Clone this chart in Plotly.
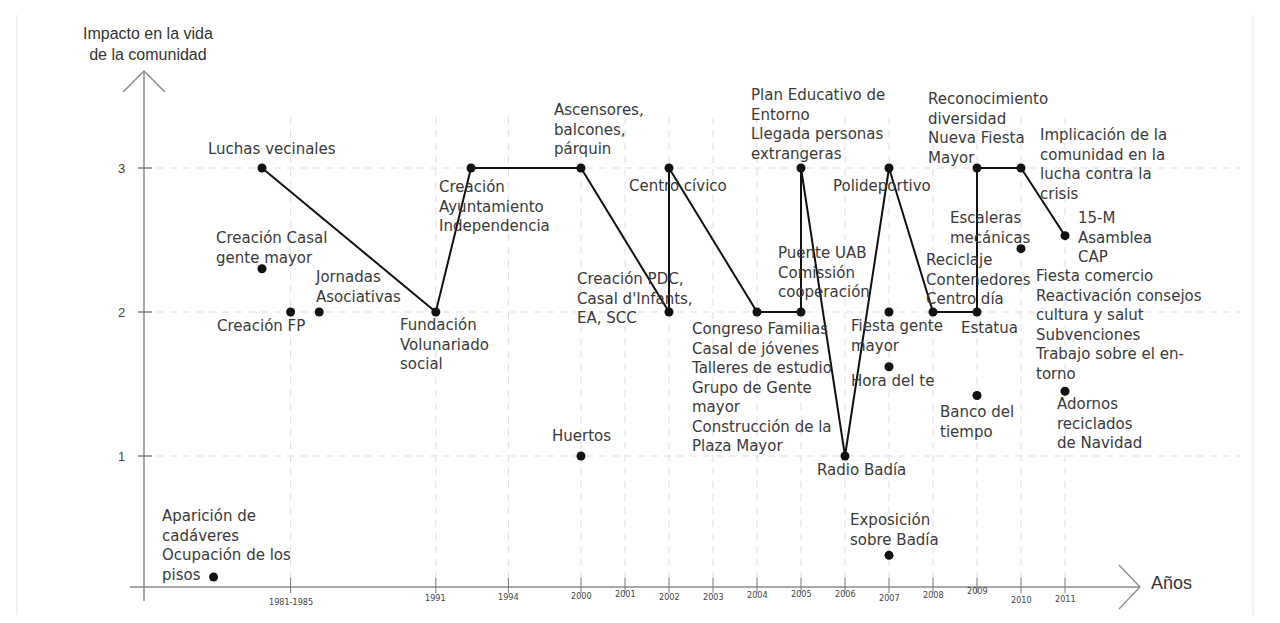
import plotly.graph_objects as go

# ---------------- data ----------------
TICK_LABELS = ["1981-1985", "1991", "1994", "2000", "2001", "2002", "2003", "2004",
               "2005", "2006", "2007", "2008", "2009", "2010", "2011"]
TICK_POS = [3.4, 6.7, 8.35, 10, 11, 12, 13, 14, 15, 16, 17, 18, 19, 20, 21]
Y_TICKS = [1, 2, 3]

# connected path of events
LINE_X = [2.75, 6.7, 7.5, 10, 12, 12, 14, 15, 15, 16, 17, 18, 19, 19, 20, 21]
LINE_Y = [3, 2, 3, 3, 2, 3, 2, 2, 3, 1, 3, 2, 2, 3, 3, 2.53]
LINE_LABELS = [
    "Luchas vecinales",
    "Fundación<br>Volunariado<br>social",
    "Creación<br>Ayuntamiento<br>Independencia",
    "Ascensores,<br>balcones,<br>párquin",
    "Creación PDC,<br>Casal d'Infants,<br>EA, SCC",
    "Centro cívico",
    "Congreso Familias<br>Casal de jóvenes<br>Talleres de estudio<br>Grupo de Gente<br>mayor<br>Construcción de la<br>Plaza Mayor",
    "Puente UAB<br>Comissión<br>cooperación",
    "Plan Educativo de<br>Entorno<br>Llegada personas<br>extrangeras",
    "Radio Badía",
    "Polideportivo",
    "Reciclaje<br>Contenedores<br>Centro día",
    "Estatua",
    "Reconocimiento<br>diversidad<br>Nueva Fiesta<br>Mayor",
    "Implicación de la<br>comunidad en la<br>lucha contra la<br>crisis",
    "15-M<br>Asamblea<br>CAP",
]

# isolated events
DOT_X = [2.75, 3.4, 4.05, 1.65, 10, 17, 17, 17, 19, 20, 21]
DOT_Y = [2.3, 2, 2, 0.16, 1, 2, 1.62, 0.31, 1.42, 2.44, 1.45]
DOT_LABELS = [
    "Creación Casal<br>gente mayor",
    "Creación FP",
    "Jornadas<br>Asociativas",
    "Aparición de<br>cadáveres<br>Ocupación de los<br>pisos",
    "Huertos",
    "Fiesta gente<br>mayor",
    "Hora del te",
    "Exposición<br>sobre Badía",
    "Banco del<br>tiempo",
    "Escaleras<br>mecánicas",
    "Adornos<br>reciclados<br>de Navidad",
]
EXTRA_LABEL = "Fiesta comercio<br>Reactivación consejos<br>cultura y salut<br>Subvenciones<br>Trabajo sobre el en-<br>torno"

# ---------------- label placement (pixel offsets from the point) ----------------
LINE_OFF = [(-56, 19), (-38, -32), (-34, -38), (-29, 39), (-94, 14), (-42, -18),
            (-68, -75), (-25, 40), (-52, 44), (-30, -14), (-58, -18), (-9, 33),
            (-18, -16), (-51, 40), (17, 4), (11, -2)]
DOT_OFF = [(-48, 21), (-76, -14), (-6, 25), (-54, 31), (-31, 20), (-40, -24),
           (-40, -14), (-41, 25), (-39, -26), (-73, 21), (-10, -32)]
EXTRA_OFF = (-32, 66)  # relative to the last dot
TICK_DY = [15, 11, 10, 9, 7, 10, 10, 8, 7, 7, 11, 8, 4, 13, 12]

PAGE_PAD = 8                   # default body margin of the html page
W, H = 1280 - 2 * PAGE_PAD, 623 - 2 * PAGE_PAD
PX_X, PX_Y = 44.0, 144.0       # pixels per unit
X0_PX, Y0_PX = 141.0, 600.0    # page pixel of data origin


def ux(px):
    return (px - X0_PX) / PX_X


def uy(py):
    return (Y0_PX - py) / PX_Y


TXT = "#3a3a3a"
LABEL_FONT = dict(family="DejaVu Sans", size=15, color=TXT)

fig = go.Figure()

fig.add_trace(go.Scatter(x=LINE_X, y=LINE_Y, mode="lines+markers",
                         line=dict(color="#111111", width=2),
                         marker=dict(color="#111111", size=9),
                         hoverinfo="skip", showlegend=False))
fig.add_trace(go.Scatter(x=DOT_X, y=DOT_Y, mode="markers",
                         marker=dict(color="#111111", size=9),
                         hoverinfo="skip", showlegend=False))

shapes = []
grid = dict(color="#dedede", width=1, dash="7px,6px")
for yv in Y_TICKS:
    shapes.append(dict(type="line", x0=ux(157), x1=ux(1240), y0=yv, y1=yv, line=grid, layer="below"))
for xv in TICK_POS:
    shapes.append(dict(type="line", x0=xv, x1=xv, y0=uy(117), y1=uy(579), line=grid, layer="below"))

axc = dict(color="#8c8c8c", width=1.5)
shapes.append(dict(type="line", x0=ux(144), x1=ux(144), y0=uy(601), y1=uy(71), line=axc))
shapes.append(dict(type="path", path=f"M {ux(123)},{uy(92)} L {ux(144)},{uy(71)} L {ux(165)},{uy(92)}", line=axc))
for yv in Y_TICKS:
    shapes.append(dict(type="line", x0=ux(138), x1=ux(152), y0=yv, y1=yv, line=dict(color="#666", width=1.2)))
shapes.append(dict(type="line", x0=ux(130), x1=ux(1140), y0=uy(587), y1=uy(587), line=dict(color="#8c8c8c", width=1.3)))
shapes.append(dict(type="path", path=f"M {ux(1119)},{uy(565)} L {ux(1140)},{uy(587)} L {ux(1119)},{uy(609)}", line=dict(color="#8c8c8c", width=1.3)))
for xv in TICK_POS:
    shapes.append(dict(type="line", x0=xv, x1=xv, y0=uy(578), y1=uy(593), line=dict(color="#777", width=1)))
for bx in (17, 1253):
    shapes.append(dict(type="line", x0=ux(bx), x1=ux(bx), y0=uy(15), y1=uy(623), line=dict(color="#ececec", width=1.5)))

ann = []
for x, y, t, (dx, dy) in zip(LINE_X, LINE_Y, LINE_LABELS, LINE_OFF):
    ann.append(dict(x=x, y=y, text=t, xanchor="left", yanchor="middle", align="left",
                    xshift=dx, yshift=dy, showarrow=False, font=LABEL_FONT))
for x, y, t, (dx, dy) in zip(DOT_X, DOT_Y, DOT_LABELS, DOT_OFF):
    ann.append(dict(x=x, y=y, text=t, xanchor="left", yanchor="middle", align="left",
                    xshift=dx, yshift=dy, showarrow=False, font=LABEL_FONT))
ann.append(dict(x=DOT_X[-1], y=DOT_Y[-1], text=EXTRA_LABEL, xanchor="left", yanchor="middle",
                align="left", xshift=EXTRA_OFF[0], yshift=EXTRA_OFF[1], showarrow=False, font=LABEL_FONT))

for xv, t, dy in zip(TICK_POS, TICK_LABELS, TICK_DY):
    ann.append(dict(x=xv, y=uy(587), text=t, xanchor="center", yanchor="middle",
                    yshift=-dy, showarrow=False, font=dict(family="DejaVu Sans Condensed", size=9, color="#444")))
for yv in Y_TICKS:
    ann.append(dict(x=ux(121), y=yv, text=str(yv), xanchor="center", yanchor="middle",
                    showarrow=False, font=dict(family="Liberation Sans", size=13, color="#444")))

ann.append(dict(x=ux(148), y=uy(44), text="Impacto en la vida<br>de la comunidad", xanchor="center",
                yanchor="middle", align="center", showarrow=False,
                font=dict(family="Liberation Sans", size=16, color="#333")))
ann.append(dict(x=ux(1149), y=uy(583), text="Años", xanchor="left", yanchor="middle",
                showarrow=False, font=dict(family="Liberation Sans", size=18, color="#333")))

fig.update_layout(
    width=W, height=H,
    margin=dict(l=0, r=0, t=0, b=0),
    paper_bgcolor="white", plot_bgcolor="white",
    xaxis=dict(range=[ux(PAGE_PAD), ux(PAGE_PAD + W)], visible=False, fixedrange=True),
    yaxis=dict(range=[uy(PAGE_PAD + H), uy(PAGE_PAD)], visible=False, fixedrange=True),
    shapes=shapes, annotations=ann,
)

fig.write_html("out.html")
